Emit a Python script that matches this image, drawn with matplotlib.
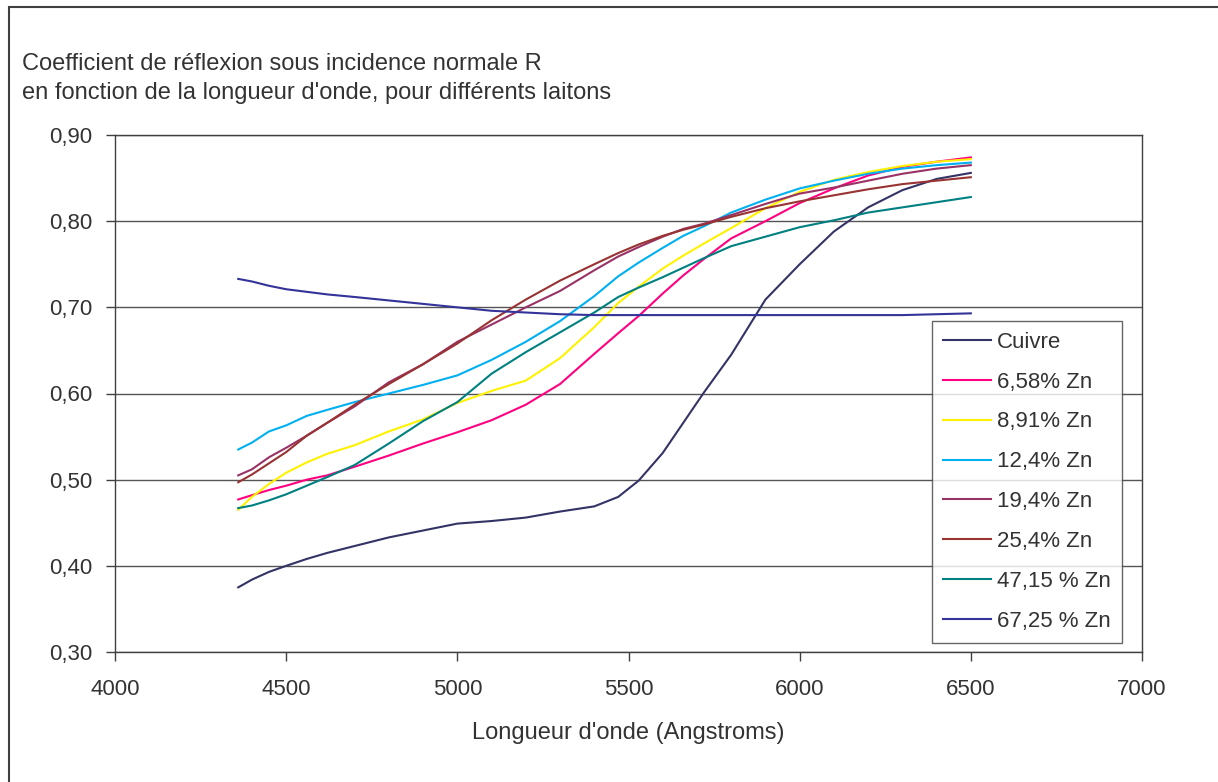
import matplotlib
matplotlib.use('Agg')
import matplotlib.pyplot as plt
from matplotlib.ticker import FuncFormatter, MultipleLocator
from matplotlib.patches import Rectangle

plt.rcParams['font.family'] = ['Liberation Sans', 'DejaVu Sans']

# Longueurs d'onde (Angstroms)
longueurs = [4360, 4400, 4450, 4500, 4560, 4620, 4700, 4800, 4900, 5000,
             5100, 5200, 5300, 5400, 5470, 5530, 5600, 5660, 5720, 5800,
             5900, 6000, 6100, 6200, 6300, 6400, 6500]

# Coefficients de réflexion R
cuivre = [0.375, 0.384, 0.393, 0.400, 0.408, 0.415, 0.423, 0.433, 0.441, 0.449,
          0.452, 0.456, 0.463, 0.469, 0.480, 0.499, 0.531, 0.566, 0.601, 0.645,
          0.709, 0.750, 0.788, 0.816, 0.836, 0.849, 0.856]
zn_658 = [0.477, 0.482, 0.488, 0.493, 0.500, 0.505, 0.515, 0.528, 0.542, 0.555,
          0.569, 0.587, 0.611, 0.646, 0.670, 0.690, 0.716, 0.737, 0.756, 0.780,
          0.800, 0.821, 0.838, 0.853, 0.863, 0.869, 0.874]
zn_891 = [0.465, 0.480, 0.495, 0.508, 0.520, 0.530, 0.540, 0.556, 0.570, 0.589,
          0.603, 0.615, 0.641, 0.677, 0.705, 0.724, 0.745, 0.760, 0.774, 0.792,
          0.815, 0.834, 0.848, 0.857, 0.864, 0.869, 0.872]
zn_124 = [0.535, 0.543, 0.556, 0.563, 0.574, 0.581, 0.590, 0.600, 0.610, 0.621,
          0.639, 0.660, 0.684, 0.713, 0.736, 0.752, 0.769, 0.783, 0.794, 0.810,
          0.825, 0.838, 0.847, 0.855, 0.861, 0.865, 0.868]
zn_194 = [0.505, 0.512, 0.526, 0.537, 0.551, 0.566, 0.585, 0.613, 0.634, 0.660,
          0.680, 0.700, 0.719, 0.743, 0.759, 0.770, 0.782, 0.791, 0.797, 0.807,
          0.820, 0.832, 0.839, 0.847, 0.855, 0.861, 0.865]
zn_254 = [0.497, 0.506, 0.519, 0.532, 0.551, 0.566, 0.587, 0.611, 0.634, 0.658,
          0.685, 0.709, 0.731, 0.750, 0.763, 0.773, 0.783, 0.790, 0.796, 0.805,
          0.815, 0.823, 0.830, 0.837, 0.843, 0.847, 0.851]
zn_4715 = [0.467, 0.470, 0.476, 0.483, 0.493, 0.503, 0.517, 0.542, 0.568, 0.590,
           0.623, 0.648, 0.671, 0.694, 0.712, 0.723, 0.735, 0.746, 0.757, 0.771,
           0.782, 0.793, 0.801, 0.810, 0.816, 0.822, 0.828]
zn_6725 = [0.733, 0.730, 0.725, 0.721, 0.718, 0.715, 0.712, 0.708, 0.704, 0.700,
           0.696, 0.694, 0.692, 0.691, 0.691, 0.691, 0.691, 0.691, 0.691, 0.691,
           0.691, 0.691, 0.691, 0.691, 0.691, 0.692, 0.693]

series = [
    ('Cuivre', cuivre, '#333366'),
    ('6,58% Zn', zn_658, '#FF0080'),
    ('8,91% Zn', zn_891, '#FFF200'),
    ('12,4% Zn', zn_124, '#00B0F0'),
    ('19,4% Zn', zn_194, '#993366'),
    ('25,4% Zn', zn_254, '#993333'),
    ('47,15 % Zn', zn_4715, '#008080'),
    ('67,25 % Zn', zn_6725, '#333399'),
]

texte = '#333333'
taille = 16

fig = plt.figure(figsize=(12.18, 7.82), dpi=100)
ax = fig.add_axes([115 / 1218, 1 - 652 / 782, 1027 / 1218, 517 / 782])

for nom, valeurs, couleur in series:
    ax.plot(longueurs, valeurs, color=couleur, lw=1.5, label=nom)

ax.set_xlim(4000, 7000)
ax.set_ylim(0.30, 0.90)
ax.xaxis.set_major_locator(MultipleLocator(500))
ax.yaxis.set_major_locator(MultipleLocator(0.1))
ax.yaxis.set_major_formatter(FuncFormatter(lambda v, p: f'{v:.2f}'.replace('.', ',')))
ax.grid(axis='y', color='#555555', lw=1)
ax.set_axisbelow(True)
for s in ax.spines.values():
    s.set_color('#404040')
    s.set_linewidth(1)
ax.tick_params(direction='out', length=6.5, width=1, color='#404040',
               labelsize=taille, labelcolor=texte)
ax.tick_params(axis='y', pad=10)
ax.tick_params(axis='x', pad=13)

ax.set_xlabel("Longueur d'onde (Angstroms)", fontsize=taille + 1, color=texte)
ax.xaxis.set_label_coords(0.5, (652 - 722) / 517)

# Titre sur deux lignes, aligné à gauche
fig.text(22 / 1218, 1 - 70 / 782, "Coefficient de réflexion sous incidence normale R",
         fontsize=taille + 1, color=texte, va='baseline', ha='left')
fig.text(22 / 1218, 1 - 99 / 782, "en fonction de la longueur d'onde, pour différents laitons",
         fontsize=taille + 1, color=texte, va='baseline', ha='left')

leg = ax.legend(loc='upper left', bbox_to_anchor=((932 - 115) / 1027, (652 - 321) / 517),
                borderaxespad=0, fontsize=taille, frameon=True, fancybox=False,
                handlelength=2.16, handletextpad=0.3, labelspacing=0.85,
                borderpad=0.48, labelcolor=texte)
leg.get_frame().set_edgecolor('#404040')
leg.get_frame().set_linewidth(1)

# Cadre extérieur du graphique
fig.add_artist(Rectangle((9 / 1218, -0.05), 1.1, 1 - 7 / 782 + 0.05,
                         transform=fig.transFigure, fill=False,
                         edgecolor='#404040', lw=1.5))

fig.savefig('out.png', dpi=100)
